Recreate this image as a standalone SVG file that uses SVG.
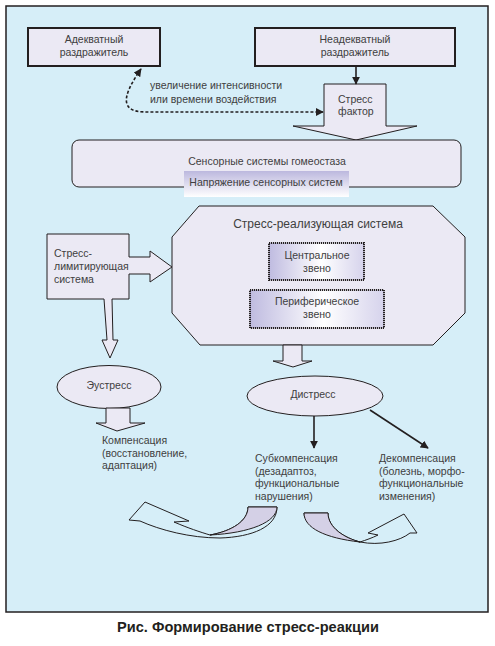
<svg xmlns="http://www.w3.org/2000/svg" width="495" height="646" viewBox="0 0 495 646">
<defs>
<style>
.t{font-family:"Liberation Sans",Arial,sans-serif;font-size:10.5px;fill:#404040}
.tc{text-anchor:middle}
.box{fill:#ebe9f4;stroke:#231f20;stroke-width:1}
.bold{fill:#ebe9f4;stroke:#231f20;stroke-width:2}
.ln{fill:none;stroke:#231f20;stroke-width:1.6}
.dot{stroke:#231f20;stroke-width:2;stroke-dasharray:1.2,0.8}
</style>
<linearGradient id="gv" x1="0" y1="0" x2="0" y2="1">
<stop offset="0" stop-color="#bcb8de"/><stop offset="1" stop-color="#ffffff"/>
</linearGradient>
<linearGradient id="gh" x1="0" y1="0" x2="1" y2="0">
<stop offset="0" stop-color="#bfbbe0"/><stop offset="0.55" stop-color="#ffffff"/><stop offset="1" stop-color="#d6d3ec"/>
</linearGradient>
<marker id="ah" viewBox="0 0 10 10" refX="9" refY="5" markerWidth="5" markerHeight="5" orient="auto-start-reverse" markerUnits="strokeWidth">
<path d="M0,0 L10,5 L0,10 Z" fill="#231f20"/>
</marker>
</defs>
<rect x="0" y="0" width="495" height="646" fill="#ffffff"/>
<rect x="6" y="6" width="482" height="606" fill="#d6eef8" stroke="#231f20" stroke-width="1.5"/>

<g id="adequate">
<rect class="bold" x="28" y="28" width="132" height="38"/>
<text class="t tc" x="94" y="43">Адекватный</text>
<text class="t tc" x="94" y="56">раздражитель</text>
</g>
<g id="inadequate">
<rect class="bold" x="255" y="28" width="200" height="38"/>
<text class="t tc" x="355" y="43">Неадекватный</text>
<text class="t tc" x="355" y="56">раздражитель</text>
</g>
<g id="stressfactor">
<polygon class="box" points="324,84 386,84 386,126 417,126 356,140 293,126 324,126"/>
<text class="t" x="338" y="103">Стресс</text>
<text class="t" x="338" y="115">фактор</text>
</g>
<g id="sensory">
<rect class="box" x="72" y="140" width="389" height="47" rx="7"/>
<text class="t tc" x="267" y="165">Сенсорные системы гомеостаза</text>
<rect x="184" y="171" width="165" height="26" fill="url(#gv)"/>
<text class="t tc" x="266" y="186">Напряжение сенсорных систем</text>
</g>
<g id="realizing">
<polygon class="box" points="199,206 433,206 465,237 465,313 433,345 200,345 172,313 172,237"/>
<text class="t tc" x="318" y="228" style="font-size:12px">Стресс-реализующая система</text>
<rect class="dot" x="269" y="243" width="95" height="37" fill="url(#gh)"/>
<text class="t tc" x="317" y="259">Центральное</text>
<text class="t tc" x="317" y="272">звено</text>
<rect class="dot" x="250" y="290" width="134" height="38" fill="url(#gh)"/>
<text class="t tc" x="317" y="305">Периферическое</text>
<text class="t tc" x="317" y="318">звено</text>
</g>
<g id="limiting">
<polygon class="box" points="47,234 129,234 129,257 150,257 150,251 172,267 150,282 150,274 129,274 129,299 112,299 113,340 118,340 110,358 102,340 107,340 104,299 47,299"/>
<text class="t" x="54" y="257">Стресс-</text>
<text class="t" x="54" y="270">лимитирующая</text>
<text class="t" x="54" y="283">система</text>
</g>
<g id="eustress">
<ellipse class="box" cx="109" cy="387" rx="52" ry="21.5"/>
<text class="t tc" x="109" y="389">Эустресс</text>
<polygon class="box" points="106,408 130,408 130,423 145,423 117,431 96,423 106,423"/>
</g>
<g id="compensation">
<text class="t" x="102" y="444">Компенсация</text>
<text class="t" x="102" y="457">(восстановление,</text>
<text class="t" x="102" y="469">адаптация)</text>
</g>
<g id="distress">
<polygon class="box" points="283,345 302,345 302,361 312,361 293,367 273,361 283,361"/>
<ellipse class="box" cx="315" cy="396" rx="68" ry="20"/>
<text class="t tc" x="313" y="398">Дистресс</text>
</g>
<g id="subcompensation">
<text class="t" x="255" y="462">Субкомпенсация</text>
<text class="t" x="255" y="474.5">(дезадаптоз,</text>
<text class="t" x="255" y="487">функциональные</text>
<text class="t" x="255" y="499.5">нарушения)</text>
</g>
<g id="decompensation">
<text class="t" x="379" y="462">Декомпенсация</text>
<text class="t" x="379" y="474.5">(болезнь, морфо-</text>
<text class="t" x="379" y="487">функциональные</text>
<text class="t" x="379" y="499.5">изменения)</text>
</g>
<g id="curved-left">
<path d="M129,520 L145,502 L189,521 L174,522 C188,528 200,532 210,535 C232,531 248,521 248,507 L277,507 C277,527 252,537 220,538 C190,538 160,530 140,521 Z" fill="none" stroke="#231f20" stroke-width="1"/>
<path d="M248,507 L277,507 C277,522 250,533 210,535 C232,531 248,521 248,507 Z" fill="#d4d0e6" stroke="#231f20" stroke-width="1"/>
</g>
<g id="curved-right">
<path d="M417,533 L404,514 L368,533 L378,535 C372,538 366,540 360,542 C335,536 304,528 304,513 L328,513 C328,528 345,538 360,542 C380,546 400,541 410,533 Z" fill="none" stroke="#231f20" stroke-width="1"/>
<path d="M304,513 L328,513 C328,528 345,538 360,542 C325,538 304,528 304,513 Z" fill="#d4d0e6" stroke="#231f20" stroke-width="1"/>
</g>

<g id="connectors">
<line class="ln" x1="356" y1="66" x2="356" y2="84" marker-end="url(#ah)"/>
<path class="ln" d="M141,69 C132,82 124,96 127,104 C130,112 140,112 150,112 L323,112" stroke-width="1.9" stroke-dasharray="3,2" marker-start="url(#ah)" marker-end="url(#ah)"/>
<line class="ln" x1="314" y1="416" x2="314" y2="448" marker-end="url(#ah)"/>
<line class="ln" x1="370" y1="410" x2="428" y2="448" marker-end="url(#ah)"/>
</g>
<text x="248" y="632" text-anchor="middle" font-family="Liberation Sans, sans-serif" font-weight="bold" font-size="15" fill="#231f20" textLength="262" lengthAdjust="spacingAndGlyphs">Рис. Формирование стресс-реакции</text>
<text class="t" x="150" y="89">увеличение интенсивности</text>
<text class="t" x="150" y="103">или времени воздействия</text>
</svg>
